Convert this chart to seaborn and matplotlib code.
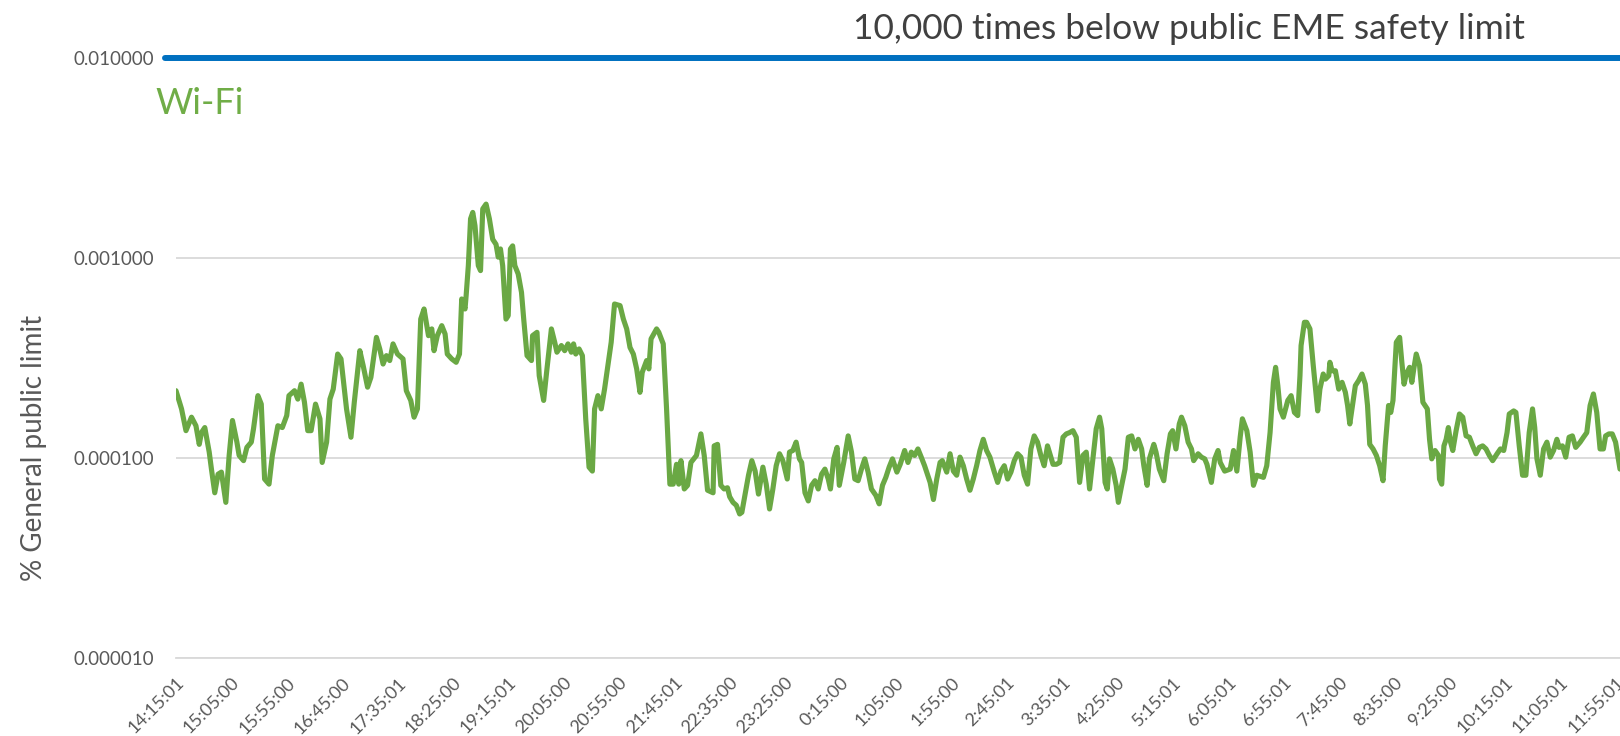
import numpy as np
import pandas as pd
import matplotlib
matplotlib.use("Agg")
import matplotlib.pyplot as plt
from matplotlib.ticker import NullLocator, FixedLocator
from matplotlib.transforms import ScaledTranslation
import seaborn as sns

# ---------------- data ----------------
# minutes elapsed since 14:15:01
minutes = [
    0, 5, 9, 14, 18, 21, 23, 26, 30, 32, 35, 38, 41, 45, 48, 51, 55, 57, 61, 64,
    68, 70, 74, 77, 80, 84, 87, 92, 96, 100, 102, 107, 110, 113, 116, 119, 122, 126, 130, 132,
    136, 139, 142, 146, 149, 154, 158, 161, 166, 169, 173, 176, 181, 184, 187, 190, 193, 196, 200, 205,
    208, 212, 215, 218, 221, 224, 228, 231, 233, 236, 240, 243, 245, 249, 253, 256, 258, 261, 262,
    264, 266, 268, 270, 273, 275, 277, 280, 283, 286, 289, 291, 293, 295, 298, 300, 302, 304, 306, 309,
    312, 314, 317, 321, 322, 326, 328, 332, 335, 339, 342, 344, 348, 351, 354, 357, 359, 361, 364, 367,
    370, 373, 376, 378, 381, 384, 387, 390, 393, 396, 401, 404, 407, 410, 413, 416, 419, 421, 425, 427,
    429, 434, 436, 440, 443, 446, 449, 452, 454, 456, 459, 462, 465, 470, 474, 477, 480, 485, 486, 489,
    492, 495, 498, 500, 503, 506, 509, 511, 517, 520, 523, 526, 530, 533,
    536, 539, 542, 545, 548, 552, 554, 557, 560, 563, 565, 568, 571, 574, 577, 580, 583, 586, 589, 591,
    594, 597, 599, 603, 607, 610, 613, 616, 619, 622, 625, 628, 632, 635, 638, 641, 644, 647, 651, 654,
    658, 661, 664, 667, 670, 673, 676, 681, 684, 687, 690, 692, 696, 699, 702, 705, 708, 711, 714, 717,
    720, 723, 726, 729, 732, 735, 739, 742, 745, 748, 751, 754, 757, 760, 763, 766, 769, 772, 775, 778,
    781, 784, 787,
    792, 795, 798, 801, 804, 807, 810, 813, 816, 819, 822, 825, 828, 831, 834, 836, 839, 841, 843, 846,
    849, 851, 854, 857, 860, 863, 866, 869, 872, 874, 877, 879, 883, 885, 888, 892, 895, 898, 900, 903,
    906, 908, 911, 914, 917, 919, 923, 926, 929, 931, 935, 938, 941, 943, 947, 952, 955, 958, 961, 963,
    967, 970, 973, 976,
    982, 985, 988, 991, 993, 995, 997, 1000, 1002, 1004, 1007, 1010, 1013, 1015, 1016, 1019, 1021, 1024, 1027, 1031,
    1033, 1036, 1038, 1041, 1042, 1044, 1047, 1050, 1053, 1056, 1058, 1060, 1062, 1065, 1068, 1071, 1074, 1076, 1078, 1081,
    1084, 1087, 1090, 1092, 1095, 1097, 1099, 1102, 1105, 1107, 1109, 1111, 1114, 1116, 1118, 1120, 1123, 1126, 1130, 1132,
    1134, 1137, 1140, 1141, 1143, 1145, 1147, 1149, 1151, 1153, 1156, 1159, 1162, 1165, 1168, 1171, 1174, 1177, 1180, 1183,
    1186, 1189, 1193, 1196, 1199, 1202, 1204, 1208, 1210, 1213, 1216, 1219, 1222, 1225, 1227, 1229, 1232, 1235, 1238, 1241,
    1244, 1247, 1249, 1252, 1255, 1258, 1261, 1264, 1268, 1271, 1274, 1277, 1280, 1283, 1286, 1289, 1291, 1294, 1297, 1300,
    1304,
]

# Wi-Fi exposure, in units of 0.0001 % of the general public limit
wifi_e4 = [
    2.17, 1.76, 1.37, 1.60, 1.45, 1.17, 1.34, 1.42, 1.07, 0.88, 0.67, 0.83, 0.85, 0.60, 1.03, 1.54, 1.20, 1.03, 0.97, 1.13,
    1.20, 1.40, 2.05, 1.86, 0.785, 0.74, 1.03, 1.45, 1.42, 1.63, 2.05, 2.17, 1.97, 2.34, 1.90, 1.37, 1.37, 1.86, 1.57, 0.95,
    1.20, 1.97, 2.21, 3.31, 3.13, 1.76, 1.27, 1.90, 3.44, 2.90, 2.26, 2.53, 4.01, 3.51, 2.95, 3.25, 3.07, 3.72, 3.31, 3.13,
    2.17, 1.94, 1.60, 1.76, 4.95, 5.56, 4.09, 4.42, 3.44, 4.09, 4.59, 4.17, 3.31, 3.13, 3.01, 3.31, 6.24, 5.56, 6.48,
    9.16, 15.7, 16.9, 14.5, 9.16, 8.65, 17.6, 18.6, 15.7, 12.4, 11.7, 10.1, 11.1, 9.16, 4.95, 5.15, 11.1, 11.5, 9.16, 8.32,
    6.73, 4.95, 3.25, 3.07, 4.09, 4.25, 2.58, 1.94, 2.79, 4.42, 3.79, 3.38, 3.65, 3.44, 3.72, 3.38, 3.72, 3.31, 3.51, 3.25,
    1.57, 0.90, 0.86, 1.76, 2.05, 1.76, 2.21, 2.90, 3.79, 5.89, 5.78, 4.95, 4.42, 3.57, 3.31, 2.79, 2.13, 2.68, 3.07, 2.79,
    3.94, 4.42, 4.25, 3.72, 1.76, 0.74, 0.74, 0.93, 0.74, 0.97, 0.70, 0.73, 0.95, 1.03, 1.32, 1.03, 0.69, 0.67, 1.15, 1.17,
    0.73, 0.70, 0.71, 0.64, 0.60, 0.58, 0.525, 0.535, 0.82, 0.97, 0.86, 0.66, 0.90, 0.74,
    0.556, 0.70, 0.915, 1.05, 0.97, 0.785, 1.07, 1.09, 1.20, 0.99, 0.95, 0.67, 0.61, 0.73, 0.77, 0.70, 0.83, 0.88, 0.785, 0.70,
    0.99, 1.13, 0.73, 0.95, 1.29, 1.07, 0.785, 0.77, 0.88, 0.99, 0.85, 0.70, 0.65, 0.59, 0.73, 0.80, 0.90, 0.99, 0.85, 0.93,
    1.09, 0.95, 1.07, 1.03, 1.11, 1.01, 0.915, 0.755, 0.62, 0.785, 0.95, 0.97, 0.85, 1.05, 0.86, 0.82, 1.01, 0.915, 0.785, 0.69,
    0.785, 0.915, 1.09, 1.24, 1.09, 1.01, 0.85, 0.755, 0.86, 0.915, 0.785, 0.85, 0.97, 1.05, 1.01, 0.82, 0.74, 1.11, 1.29, 1.20,
    1.03, 0.915, 1.15,
    0.93, 0.93, 0.95, 1.27, 1.32, 1.34, 1.37, 1.27, 0.755, 1.03, 1.07, 0.70, 0.99, 1.40, 1.60, 1.40, 0.755, 0.70, 0.99, 0.88,
    0.73, 0.60, 0.73, 0.88, 1.27, 1.29, 1.11, 1.24, 1.11, 0.915, 0.73, 0.99, 1.17, 1.07, 0.88, 0.77, 1.05, 1.32, 1.37, 1.11,
    1.48, 1.60, 1.45, 1.20, 1.11, 0.97, 1.05, 1.01, 0.99, 0.93, 0.755, 0.99, 1.09, 0.95, 0.86, 0.88, 1.09, 0.86, 1.27, 1.57,
    1.37, 1.07, 0.73, 0.82,
    0.80, 0.915, 1.34, 2.39, 2.84, 2.30, 1.76, 1.60, 1.76, 1.94, 2.05, 1.69, 1.63, 2.58, 3.65, 4.77, 4.77, 4.42, 2.90, 1.72,
    2.21, 2.63, 2.48, 2.58, 3.01, 2.73, 2.73, 2.21, 2.39, 2.13, 1.83, 1.48, 1.76, 2.30, 2.44, 2.63, 2.34, 1.83, 1.17, 1.11,
    1.03, 0.915, 0.77, 1.15, 1.83, 1.69, 1.94, 3.79, 4.01, 3.01, 2.34, 2.63, 2.84, 2.39, 2.84, 3.31, 2.90, 1.90, 1.76, 1.24,
    0.99, 1.09, 1.03, 0.785, 0.74, 1.15, 1.24, 1.42, 1.20, 1.09, 1.37, 1.66, 1.60, 1.29, 1.27, 1.15, 1.05, 1.13, 1.15, 1.11,
    1.03, 0.97, 1.05, 1.11, 1.09, 1.34, 1.66, 1.72, 1.69, 1.15, 0.82, 0.82, 1.34, 1.76, 1.42, 0.99, 0.82, 1.11, 1.20, 1.01,
    1.09, 1.24, 1.13, 1.15, 1.01, 1.27, 1.29, 1.13, 1.20, 1.27, 1.34, 1.83, 2.09, 1.69, 1.11, 1.11, 1.29, 1.32, 1.32, 1.20,
    0.88,
]

tick_minutes = list(range(0, 1301, 50))
tick_labels = [
    "14:15:01", "15:05:00", "15:55:00", "16:45:00", "17:35:01", "18:25:00", "19:15:01",
    "20:05:00", "20:55:00", "21:45:01", "22:35:00", "23:25:00", "0:15:00", "1:05:00",
    "1:55:00", "2:45:01", "3:35:01", "4:25:00", "5:15:01", "6:05:01", "6:55:01",
    "7:45:00", "8:35:00", "9:25:00", "10:15:01", "11:05:01", "11:55:01",
]
y_ticks = [1e-5, 1e-4, 1e-3, 1e-2]
y_tick_labels = ["0.000010", "0.000100", "0.001000", "0.010000"]
safety_line = 0.01

title_text = "10,000 times below public EME safety limit"
series_name = "Wi-Fi"
y_label = "% General public limit"

# ---------------- plot ----------------
sns.set_theme(style="white")
plt.rcParams['font.family'] = ['Lato', 'DejaVu Sans']

W, H = 1620, 736
fig = plt.figure(figsize=(W / 100, H / 100), dpi=100)
ax = fig.add_axes([176 / W, 78 / H, (W - 176) / W, 600 / H])

df = pd.DataFrame({"minute": minutes, "value": np.array(wifi_e4) * 1e-4})
sns.lineplot(data=df, x="minute", y="value", ax=ax, color="#6AA844",
             linewidth=3.7, solid_joinstyle="round", solid_capstyle="round")

ax.set_yscale("log")
ax.set_ylim(1e-5, 1e-2)
ax.set_xlim(0, 1304)
ax.yaxis.set_major_locator(FixedLocator(y_ticks))
ax.set_yticklabels(y_tick_labels)
ax.yaxis.set_minor_locator(NullLocator())
ax.set_xticks(tick_minutes)
ax.set_xticklabels(tick_labels, rotation=45, ha="right", va="top", rotation_mode="anchor")
shift = ScaledTranslation(-4 / 100, 0, fig.dpi_scale_trans)
for lab in ax.get_xticklabels():
    lab.set_transform(lab.get_transform() + shift)

ax.tick_params(axis="y", length=0, pad=16, labelsize=13.5, labelcolor="#595959")
ax.tick_params(axis="x", length=0, pad=12, labelsize=13, labelcolor="#595959")

ax.grid(axis="y", color="#D9D9D9", linewidth=1.3)
ax.grid(axis="x", visible=False)
for s in ["top", "right", "left"]:
    ax.spines[s].set_visible(False)
ax.spines["bottom"].set_color("#D9D9D9")
ax.spines["bottom"].set_linewidth(1.3)

ax.axhline(safety_line, xmin=-0.0075, xmax=1.0, color="#0070C0", linewidth=4.3,
           clip_on=False, solid_capstyle="round", zorder=5)

ax.set_xlabel("")
ax.set_ylabel(y_label, fontsize=20, color="#595959")
ax.yaxis.set_label_coords(-0.089, 0.35)

fig.text(1189 / W, 1 - 29 / H, title_text, ha="center", va="center",
         fontsize=25.5, color="#404040")
fig.text(155 / W, 1 - 104 / H, series_name, ha="left", va="center",
         fontsize=26, color="#70AD47")

fig.savefig("out.png", dpi=100)
